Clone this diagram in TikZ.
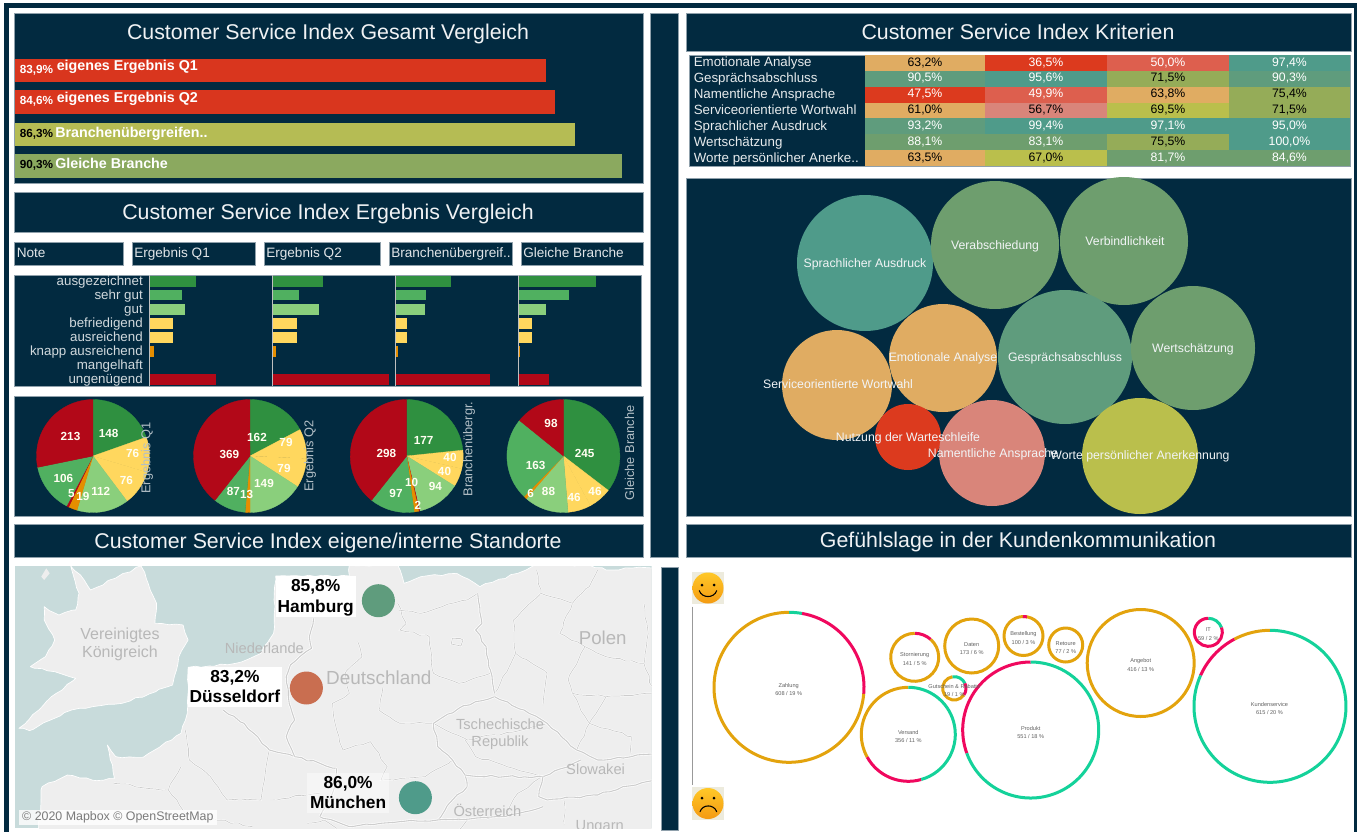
\documentclass[tikz,border=0pt]{standalone}
\usepackage{fontspec}
\usetikzlibrary{decorations.pathmorphing}
\setmainfont{Liberation Sans}
\definecolor{navy}{HTML}{022A40}
\definecolor{edgeg}{HTML}{8FA0AB}
\definecolor{barred}{HTML}{D9361E}
\definecolor{barol}{HTML}{B5BC54}
\definecolor{bargr}{HTML}{8BA95F}
\definecolor{cor}{HTML}{E0AC62}
\definecolor{cre}{HTML}{DC3A1E}
\definecolor{crl}{HTML}{DD5F4E}
\definecolor{crp}{HTML}{D9857A}
\definecolor{cte}{HTML}{4F9B8A}
\definecolor{cgt}{HTML}{5F9C7D}
\definecolor{cgg}{HTML}{6E9E6E}
\definecolor{col}{HTML}{95AC58}
\definecolor{cyl}{HTML}{BABF4C}
\definecolor{gdk}{HTML}{2F9040}
\definecolor{gmd}{HTML}{50B060}
\definecolor{glt}{HTML}{8ACF7C}
\definecolor{yel}{HTML}{FFD75E}
\definecolor{org}{HTML}{E58E00}
\definecolor{crim}{HTML}{B20818}
\definecolor{sea}{HTML}{C8DBDB}
\definecolor{land}{HTML}{EEEEEE}
\definecolor{bord}{HTML}{CDCDCD}
\definecolor{maptxt}{HTML}{B8B8B8}
\definecolor{sorg}{HTML}{E3A30D}
\definecolor{spink}{HTML}{F0085E}
\definecolor{sgrn}{HTML}{14D29A}
\definecolor{dotrd}{HTML}{C96E50}
\definecolor{smbg}{HTML}{EDEBDD}
\definecolor{sminner}{HTML}{FFC828}
\definecolor{smouter}{HTML}{F49A12}
\tikzset{
 panel/.style={fill=navy,draw=edgeg,line width=.35pt},
 title/.style={text=white!94!navy,font=\fontsize{16}{18}\selectfont,inner sep=0pt,text height=11.5pt,text depth=.5pt},
 barlbl/.style={text=white,font=\bfseries\fontsize{10.7}{12}\selectfont,anchor=west,inner sep=0pt,text height=7.5pt,text depth=.5pt},
 pctlbl/.style={font=\bfseries\fontsize{8.8}{10}\selectfont,anchor=west,inner sep=0pt,text height=6.5pt,text depth=.5pt},
 hdr/.style={text=white!88!navy,font=\fontsize{10.2}{12}\selectfont,anchor=west,inner sep=0pt,text height=7.5pt,text depth=.5pt},
 notelbl/.style={text=white!82!navy,font=\fontsize{10}{12}\selectfont,anchor=east,inner sep=0pt,text height=7.5pt,text depth=.5pt},
 pienum/.style={text=white!95!yellow,font=\bfseries\fontsize{8.8}{10}\selectfont,inner sep=0pt},
 pietitle/.style={text=white!70!navy,font=\fontsize{9.6}{12}\selectfont,rotate=90,inner sep=0pt},
 tbl/.style={text=white!90!navy,font=\fontsize{10}{12}\selectfont,anchor=west,inner sep=0pt,text height=7.5pt,text depth=.5pt},
 val/.style={font=\fontsize{9.2}{11}\selectfont,inner sep=0pt,text height=7pt,text depth=1pt},
 bub/.style={text=white!95!navy,font=\fontsize{9.2}{11}\selectfont,inner sep=0pt,text height=7pt,text depth=.5pt},
 maplbl/.style={text=maptxt,font=\fontsize{12}{14}\selectfont,inner sep=0pt},
 cityl/.style={text=black,font=\bfseries\fontsize{13}{15}\selectfont,inner sep=0pt,text height=9.5pt,text depth=.5pt},
 wob/.style={decorate,decoration={random steps,segment length=5pt,amplitude=.8pt}},
 bline/.style={bord,line width=.8pt,line join=round,wob,preaction={draw=white,line width=1.8pt}},
 bthin/.style={bord,line width=.5pt,line join=round,wob,preaction={draw=white,line width=1.2pt}},
 coast/.style={land,draw=white,line width=.5pt,line join=round,wob},
 senti/.style={text=black!62,font=\fontsize{4.2}{5}\selectfont,inner sep=0pt},
 ring/.style={line width=2.25pt},
}
% horizontal bar
\newcommand{\topbar}[5]{\fill[#5] (#1,#3) rectangle (#2,#4);}
% cell
\newcommand{\tcell}[6]{\fill[#4] (#1,#3) rectangle (#2,#3+16);
 \node[val,text=#5] at ({(#1+#2)/2},#3+7) {#6};}
% pie
\newcommand{\piechart}[3]{%
 \gdef\pietotal{0}%
 \foreach \v/\c in {#3}{\pgfmathsetmacro\t{\pietotal+\v}\xdef\pietotal{\t}}%
 \gdef\pieang{-90}%
 \foreach \v/\c in {#3}{%
  \pgfmathsetmacro\e{\pieang+\v/\pietotal*360}%
  \fill[\c,draw=\c,line width=.25pt] (#1,#2) -- ++(\pieang:56.5) arc[start angle=\pieang,end angle=\e,radius=56.5] -- cycle;
  \xdef\pieang{\e}}}
% ring arc, visual angles (counter-clockwise from east)
\newcommand{\ringarc}[6]{\draw[ring,#6] (#1,#2) ++({-(#4)}:#3) arc[start angle={-(#4)},end angle={-(#5)},radius=#3];}
\begin{document}
\begin{tikzpicture}[x=0.75pt,y=-0.75pt]
\useasboundingbox (0,0) rectangle (1357,832);
\fill[white] (0,0) rectangle (1357,832);
% outer frame
\fill[navy] (4,3) rectangle (1357,8);
\fill[navy] (4,3) rectangle (8.5,832);
\fill[navy] (1354,3) rectangle (1357,832);
% panels
\fill[panel] (14.5,13) rectangle (643,183);
\fill[panel] (14.5,192) rectangle (643,232);
\fill[panel] (14.5,396) rectangle (643,516);
\fill[panel] (14.5,524) rectangle (643,557);
\fill[panel] (650,13) rectangle (678,557);
\fill[panel] (661,567) rectangle (678,830);
\fill[panel] (686,13) rectangle (1351,51);
\fill[panel] (686,178) rectangle (1351,516);
\fill[panel] (686,524) rectangle (1351,557);
% titles
\node[title] (t1) at (328,32) {Customer Service Index Gesamt Vergleich};
\node[title] (t2) at (328,212) {Customer Service Index Ergebnis Vergleich};
\node[title] (t3) at (328,541) {Customer Service Index eigene/interne Standorte};
\node[title] (t4) at (1018,32) {Customer Service Index Kriterien};
\node[title] (t5) at (1018,540) {Gefühlslage in der Kundenkommunikation};
% top bars
\topbar{14.5}{546}{59}{82}{barred}
\topbar{14.5}{555}{90}{114}{barred}
\topbar{14.5}{575}{122.5}{146}{barol}
\topbar{14.5}{622}{154}{177.5}{bargr}
\node[pctlbl,text=white] (p1) at (19.5,69.5) {83,9\%};
\node[pctlbl,text=white] (p2) at (19.5,100.7) {84,6\%};
\node[pctlbl,text=black] (p3) at (19.5,133) {86,3\%};
\node[pctlbl,text=black] (p4) at (19.5,164) {90,3\%};
\node[barlbl] (b1) at (56.5,65.5) {eigenes Ergebnis Q1};
\node[barlbl] (b2) at (56.5,98) {eigenes Ergebnis Q2};
\node[barlbl] (b3) at (55,133) {Branchenübergreifen..};
\node[barlbl] (b4) at (55,164) {Gleiche Branche};
% header boxes
\fill[panel] (14.5,242) rectangle (123,265);
\fill[panel] (132,242) rectangle (255,265);
\fill[panel] (264,242) rectangle (380,265);
\fill[panel] (389,242) rectangle (512,265);
\fill[panel] (521,242) rectangle (643,265);
\node[hdr] (h1) at (16.5,252.5) {Note};
\node[hdr] (h2) at (134,252.5) {Ergebnis Q1};
\node[hdr] (h3) at (266,252.5) {Ergebnis Q2};
\node[hdr] (h4) at (391,252.5) {Branchenübergreif..};
\node[hdr] (h5) at (523,252.5) {Gleiche Branche};
% grade bars
\fill[panel] (14.5,275) rectangle (641,386);
\foreach \nm [count=\i] in {ausgezeichnet,sehr gut,gut,befriedigend,ausreichend,knapp ausreichend,mangelhaft,ungenügend}
 \node[notelbl] (n\i) at (143,{267+14*\i}) {\nm};
\foreach \xa/\ba/\bb/\bc/\bd/\be/\bf/\bg in {
 149/195.7/182/184.5/173/173/154/215.6,
 272.4/323/299/319/296.5/296.5/276/389,
 395/450.7/426/424.5/407/407/398/489.6,
 518/596/569/545.6/532/532/519.5/548.5}{
 \fill[gdk] (\xa,275.5) rectangle (\ba,286.5);
 \fill[gmd] (\xa,289.5) rectangle (\bb,300);
 \fill[glt] (\xa,304) rectangle (\bc,314.5);
 \fill[yel] (\xa,318) rectangle (\bd,328.5);
 \fill[yel] (\xa,332) rectangle (\be,342.5);
 \fill[org] (\xa,346) rectangle (\bf,356.5);
 \fill[crim] (\xa,374) rectangle (\bg,385);
 \draw[gray!50,line width=.7pt] (\xa,275) -- (\xa,386);
}
% pies
\piechart{93}{456}{148/gdk,76/yel,76/yel,112/glt,19/org,5/crim,106/gmd,213/crim}
\piechart{250}{456}{162/gdk,79/yel,79/yel,149/glt,13/org,87/gmd,369/crim}
\piechart{406.7}{456}{177/gdk,40/yel,40/yel,94/glt,2/crim,10/org,97/gmd,298/crim}
\piechart{563.4}{456}{245/gdk,46/yel,46/yel,88/glt,6/org,163/gmd,98/crim}
\foreach \x/\y/\txt [count=\i] in {
 70.5/436.7/213,108.6/433/148,132.7/453/76,126.5/480.7/76,100.8/491/112,83/496/19,71.3/494/5,63.4/478/106,
 229.3/454/369,257/437.7/162,286/442.7/79,284/468/79,264/483/149,246.7/494/13,233.4/491.7/87,
 386.4/453/298,423.7/440/177,450/457/40,444.5/471/40,435.3/486/94,411.7/482.7/10,418/505.7/2,396/493/97,
 551/423/98,584.6/453/245,535.7/465.7/163,548.5/491.7/88,574.2/497/46,595/491.7/46,530.7/493/6}
 \node[pienum] (pl\i) at (\x,\y) {\txt};
\node[pietitle] (pt1) at (147,458) {Ergebnis Q1};
\node[pietitle] (pt2) at (310,456) {Ergebnis Q2};
\node[pietitle] (pt3) at (469,449) {Branchenübergr.};
\node[pietitle] (pt4) at (629.5,453) {Gleiche Branche};
% table
\fill[panel] (689,55) rectangle (1350,166.5);
\foreach \nm [count=\i] in {Emotionale Analyse,Gesprächsabschluss,Namentliche Ansprache,Serviceorientierte Wortwahl,Sprachlicher Ausdruck,Wertschätzung,Worte persönlicher Anerke..}
 \node[tbl] (tl\i) at (693.5,{46+16*\i}) {\nm};
\foreach \yy/\ca/\ta/\va/\cb/\tb/\vb/\cc/\tc/\vc/\cd/\td/\vd in {
 55/cor/black/63{,}2\%/cre/white/36{,}5\%/crl/white/50{,}0\%/cte/white/97{,}4\%,
 70.8/cgt/white/90{,}5\%/cte/white/95{,}6\%/col/black/71{,}5\%/cgt/white/90{,}3\%,
 86.7/cre/white/47{,}5\%/crl/white/49{,}9\%/cor/black/63{,}8\%/col/black/75{,}4\%,
 102.5/cor/black/61{,}0\%/crp/black/56{,}7\%/cyl/black/69{,}5\%/col/black/71{,}5\%,
 118.4/cgt/white/93{,}2\%/cte/white/99{,}4\%/cte/white/97{,}1\%/cte/white/95{,}0\%,
 134.2/cgg/white/88{,}1\%/cgg/white/83{,}1\%/col/black/75{,}5\%/cte/white/100{,}0\%,
 150/cor/black/63{,}5\%/cyl/black/67{,}0\%/cgg/white/81{,}7\%/cgg/white/84{,}6\%}{
 \tcell{865}{985}{\yy}{\ca}{\ta}{\va}
 \tcell{985}{1107}{\yy}{\cb}{\tb}{\vb}
 \tcell{1107}{1229}{\yy}{\cc}{\tc}{\vc}
 \tcell{1229}{1350}{\yy}{\cd}{\td}{\vd}
}
% bubbles
\foreach \x/\y/\r/\kol in {865/263/68/cte,995/245/64/cgg,1124/241/64/cgg,943/358/54/cor,1065/357/67/cgt,1193/348/62/cgg,837/385/55/cor,908/437/33/cre,992/453/53/crp,1140/456/58/cyl}
 \fill[\kol] (\x,\y) circle[radius=\r];
\node[bub] (bb1) at (865,263) {Sprachlicher Ausdruck};
\node[bub] (bb2) at (995,245) {Verabschiedung};
\node[bub] (bb3) at (1125,241) {Verbindlichkeit};
\node[bub] (bb4) at (943,357) {Emotionale Analyse};
\node[bub] (bb5) at (1065,357) {Gesprächsabschluss};
\node[bub] (bb6) at (1193,348) {Wertschätzung};
\node[bub] (bb7) at (838,384) {Serviceorientierte Wortwahl};
\node[bub] (bb8) at (908,437) {Nutzung der Warteschleife};
\node[bub] (bb9) at (993,453) {Namentliche Ansprache};
\node[bub] (bb10) at (1140,455) {Worte persönlicher Anerkennung};
% map
\begin{scope}
\clip (14.7,566) rectangle (651.5,828);
\fill[sea] (14.7,566) rectangle (651.5,828);
\begin{scope}[shift={(0,560)},xscale=.4209,yscale=.3333]
 % Great Britain
 \fill[coast] (168,18) -- (200,60) -- (215,90) -- (280,50) -- (335,18) -- (352,70) -- (372,130) -- (368,190) -- (435,195) -- (447,240) -- (425,290) -- (410,375) -- (370,395) -- (290,430) -- (220,440) -- (170,450) -- (120,480) -- (70,512) -- (45,505) -- (110,425) -- (180,355) -- (130,335) -- (72,320) -- (108,290) -- (130,240) -- (105,180) -- (105,140) -- (140,165) -- (180,150) -- (188,100) -- cycle;
 \fill[land] (98,50) -- (110,25) -- (118,40) -- (105,60) -- cycle;
 % continent
 \fill[coast] (90,830) -- (100,680) -- (160,645) -- (230,662) -- (272,655) -- (255,555) -- (275,590) -- (340,592) -- (430,520) -- (445,460) -- (447,322) -- (560,310) -- (620,280) -- (650,220) -- (655,48) -- (830,48) -- (830,15) -- (945,15) -- (960,70) -- (1000,50) -- (1085,40) -- (1140,80) -- (1250,30) -- (1270,15) -- (1400,15) -- (1440,30) -- (1570,20) -- (1570,830) -- cycle;
 % borders
 \draw[bthin] (945,130) -- (965,190) -- (950,210) -- (1020,230) -- (1030,340) -- (1090,370) -- (1165,340);
 \draw[bthin] (945,150) -- (1000,160) -- (1050,140) -- (1110,120) -- (1135,100);
 \draw[bthin] (850,245) -- (860,290) -- (820,340) -- (830,400) -- (790,430) -- (800,510) -- (815,570);
 \draw[bthin] (910,380) -- (900,450) -- (950,490) -- (1030,490);
 \draw[bthin] (815,570) -- (880,545) -- (920,620) -- (905,660) -- (1010,650) -- (1075,600);
 \draw[bthin] (1275,30) -- (1285,100) -- (1220,180) -- (1225,280) -- (1300,340) -- (1290,440);
 \draw[bthin] (1285,100) -- (1360,130) -- (1400,80) -- (1420,30);
 \draw[bthin] (1225,280) -- (1175,400);
 \draw[bthin] (1360,130) -- (1330,220) -- (1390,260) -- (1350,360) -- (1360,400) -- (1400,490) -- (1370,570);
 \draw[bthin] (1390,260) -- (1440,290) -- (1530,310) -- (1560,420);
 \draw[bthin] (1530,130) -- (1540,220) -- (1530,310);
 \draw[bthin] (1360,400) -- (1440,410) -- (1550,400);
 \draw[bthin] (1440,410) -- (1400,490) -- (1500,530) -- (1500,590);
 \draw[bthin] (1105,540) -- (1130,590) -- (1290,650);
 \draw[bthin] (1030,490) -- (1110,540) -- (1240,510) -- (1300,490);
 \draw[bthin] (440,510) -- (450,600) -- (500,650) -- (540,720) -- (620,720) -- (640,570);
 \draw[bthin] (430,620) -- (400,690) -- (270,670);
 \draw[bthin] (400,690) -- (440,760) -- (600,800);
 \draw[bthin] (640,720) -- (760,700);
 \draw[bthin] (1200,770) -- (1230,700) -- (1290,650);
 \draw[bthin] (1340,720) -- (1340,800);
 \draw[bthin] (1080,830) -- (1110,780) -- (1200,770);
 \draw[bthin] (730,790) -- (770,780) -- (800,805);
 \draw[bthin] (1075,235) -- (1100,240) -- (1095,258) -- (1072,252) -- cycle;
 \draw[bline] (1135,100) -- (1145,190) -- (1130,210) -- (1155,260) -- (1165,330) -- (1175,400);
 \draw[bline] (1175,410) -- (1130,425) -- (1090,445) -- (1030,490) -- (1040,560) -- (1075,600) -- (1105,645) -- (1110,680);
 \draw[bline] (1110,680) -- (1075,720) -- (1040,780) -- (950,785) -- (830,800) -- (760,770);
 \draw[bline] (1175,410) -- (1245,450) -- (1300,490) -- (1370,570) -- (1420,600) -- (1500,590) -- (1560,580);
 \draw[bline] (1105,645) -- (1200,650) -- (1290,650) -- (1380,600);
 \draw[bline] (1290,650) -- (1280,710) -- (1300,720) -- (1420,705) -- (1480,680) -- (1560,660);
 \draw[bline] (530,450) -- (580,490) -- (640,570) -- (700,590) -- (760,610) -- (800,625);
 \draw[bline] (700,480) -- (680,530) -- (700,590);
 \draw[bline] (745,175) -- (735,230) -- (740,265) -- (690,315) -- (680,350) -- (690,440) -- (700,480);
 \draw[bline] (800,625) -- (790,700) -- (760,770);
 \draw[bline] (1040,780) -- (1200,770) -- (1290,740);
 % labels
 \node[maplbl] (m1) at (285,225) {Vereinigtes};
 \node[maplbl] (m2) at (285,280) {Königreich};
 \node[maplbl,font=\fontsize{11}{13}\selectfont] (m3) at (628,266) {Niederlande};
 \node[maplbl,font=\fontsize{14.2}{16}\selectfont] (m4) at (900,352) {Deutschland};
 \node[maplbl,font=\fontsize{14}{16}\selectfont] (m5) at (1432,233) {Polen};
 \node[maplbl,font=\fontsize{11}{13}\selectfont] (m6) at (1188,492) {Tschechische};
 \node[maplbl,font=\fontsize{11}{13}\selectfont] (m7) at (1188,548) {Republik};
 \node[maplbl,font=\fontsize{11}{13}\selectfont] (m8) at (1415,627) {Slowakei};
 \node[maplbl,font=\fontsize{11}{13}\selectfont] (m9) at (1158,752) {Österreich};
 \node[maplbl,font=\fontsize{11}{13}\selectfont] (m10) at (1425,802) {Ungarn};
 % label backings
 \fill[white] (655,48) rectangle (845,170);
 \fill[white] (447,320) rectangle (670,440);
 \fill[white,opacity=.45] (730,640) rectangle (925,760);
 \fill[white,opacity=.8] (45,750) rectangle (515,795);
 \node[text=black!52,font=\fontsize{9.3}{11}\selectfont,inner sep=0pt] (cp) at (280,772) {© 2020 Mapbox © OpenStreetMap};
 \node[cityl] (c1) at (750,77) {85,8\%};
 \node[cityl] (c2) at (750,138) {Hamburg};
 \node[cityl] (c3) at (558,350) {83,2\%};
 \node[cityl] (c4) at (558,410) {Düsseldorf};
 \node[cityl] (c5) at (827,668) {86,0\%};
 \node[cityl] (c6) at (827,728) {München};
\end{scope}
\fill[cgt] (378.4,600.7) circle[radius=16.5];
\fill[dotrd] (306.4,688) circle[radius=16.5];
\fill[cte] (415.4,797.7) circle[radius=16.5];
\end{scope}
% sentiment axis
\fill[smbg] (691.7,572) rectangle (724,604);
\fill[smbg] (691.7,787) rectangle (724,820);
\shade[top color=sminner,bottom color=smouter] (708,588) circle[radius=15.5];
\shade[top color=sminner,bottom color=smouter] (708,803.5) circle[radius=15.5];
\fill[black] (702,585) circle[radius=1.5];
\fill[black] (714,585) circle[radius=1.5];
\draw[black,line width=.8pt,line cap=round] (699.3,590.7) .. controls (702,598.5) and (714,598.5) .. (716.7,590.7);
\fill[black] (702,798) circle[radius=1.5];
\fill[black] (714,798) circle[radius=1.5];
\draw[black,line width=.8pt,line cap=round] (700,811.7) .. controls (702.5,804) and (714,804) .. (716.7,811.7);
\draw[gray!80,line width=.8pt] (692.5,606.7) -- (692.5,785);
% rings: cx cy r from to colour
\ringarc{789}{687.3}{75}{90}{80}{sgrn}
\ringarc{789}{687.3}{75}{80}{-5}{spink}
\ringarc{789}{687.3}{75}{-5}{-270}{sorg}
\ringarc{914.7}{657.3}{24}{90}{48}{spink}
\ringarc{914.7}{657.3}{24}{48}{-270}{sorg}
\ringarc{971.7}{646}{27}{0}{360}{sorg}
\ringarc{954.3}{688.3}{11.7}{100}{25}{sgrn}
\ringarc{954.3}{688.3}{11.7}{25}{-35}{spink}
\ringarc{954.3}{688.3}{11.7}{-35}{-260}{sorg}
\ringarc{908.3}{734.3}{47}{90}{209}{sorg}
\ringarc{908.3}{734.3}{47}{209}{286}{spink}
\ringarc{908.3}{734.3}{47}{286}{450}{sgrn}
\ringarc{1030.7}{730}{68}{90}{200}{spink}
\ringarc{1030.7}{730}{68}{200}{450}{sgrn}
\ringarc{1023.5}{636}{19.5}{0}{360}{sorg}
\ringarc{1023.5}{636}{19.5}{92}{80}{spink}
\ringarc{1065.7}{645}{17}{0}{360}{sorg}
\ringarc{1140.7}{663}{53.5}{0}{360}{sorg}
\ringarc{1208.3}{632.3}{14}{90}{20}{sgrn}
\ringarc{1208.3}{632.3}{14}{20}{-270}{spink}
\ringarc{1270}{706.3}{76}{90}{118}{sorg}
\ringarc{1270}{706.3}{76}{118}{156}{spink}
\ringarc{1270}{706.3}{76}{156}{450}{sgrn}
\foreach \x/\y/\ta/\tb [count=\i] in {
 788.7/685.7/Zahlung/{608 / 19 \%},
 914.7/655.5/Stornierung/{141 / 5 \%},
 971.7/644.5/Daten/{173 / 6 \%},
 908.3/732.7/Versand/{356 / 11 \%},
 1030.7/728.5/Produkt/{551 / 18 \%},
 1023.5/634/Bestellung/{100 / 3 \%},
 1065.7/643.5/Retoure/{77 / 2 \%},
 1140.7/661/Angebot/{416 / 13 \%},
 1208.3/630/IT/{59 / 2 \%},
 1269.5/704.7/Kundenservice/{615 / 20 \%},
 954.3/686/Gutschein \& Rabatte/{19 / 1 \%}}{
 \node[senti] (sa\i) at (\x,\y) {\ta};
 \node[senti] (sb\i) at (\x,\y+8.2) {\tb};
}
\end{tikzpicture}
\end{document}
